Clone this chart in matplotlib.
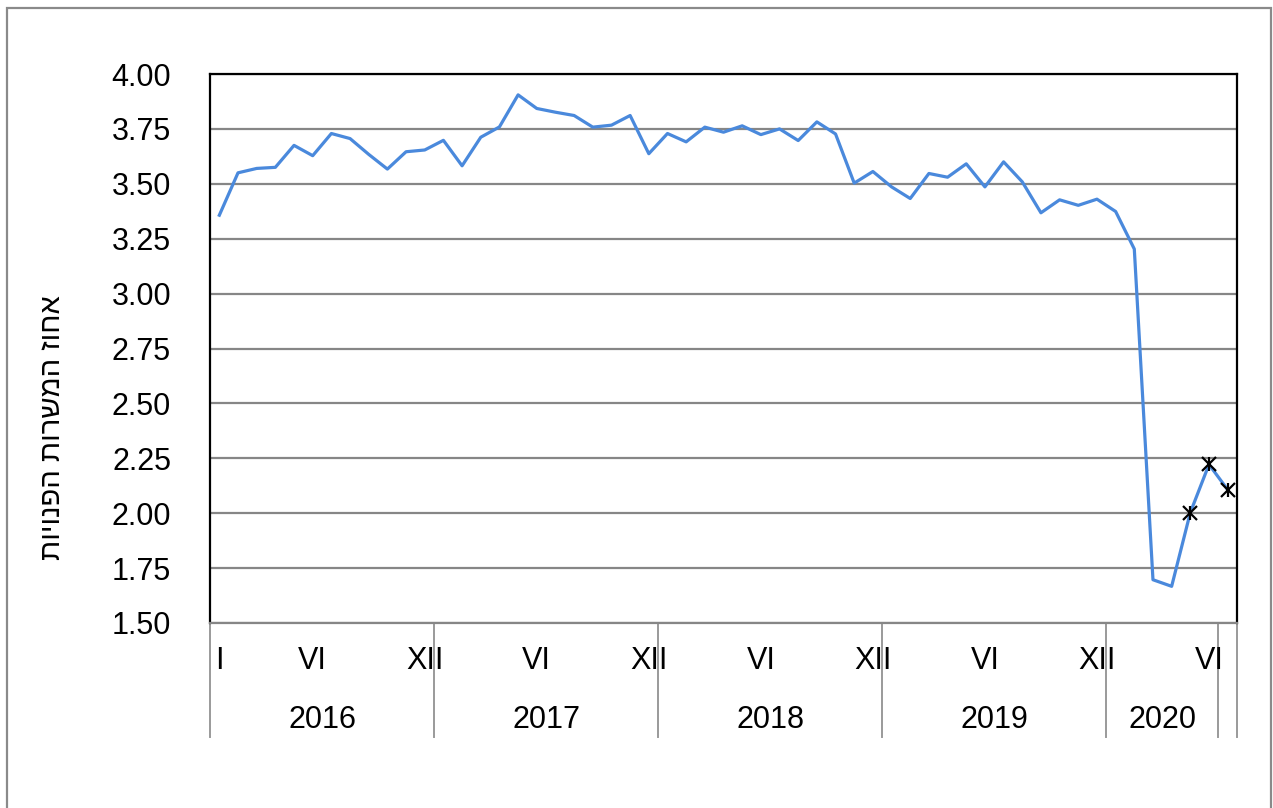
import matplotlib
matplotlib.use("Agg")
import matplotlib.pyplot as plt
from matplotlib.lines import Line2D
from matplotlib.patches import Rectangle
import matplotlib.transforms as mtransforms

plt.rcParams['font.family'] = ['Liberation Sans', 'DejaVu Sans']

# Monthly values Jan 2016 .. Jul 2020
values = [
    3.357, 3.550, 3.570, 3.575, 3.675, 3.628, 3.729, 3.706, 3.634, 3.567, 3.646, 3.654,  # 2016
    3.698, 3.582, 3.712, 3.759, 3.905, 3.843, 3.826, 3.811, 3.758, 3.767, 3.811, 3.637,  # 2017
    3.729, 3.691, 3.758, 3.735, 3.764, 3.724, 3.750, 3.697, 3.782, 3.727, 3.503, 3.556,  # 2018
    3.486, 3.433, 3.547, 3.530, 3.591, 3.486, 3.600, 3.509, 3.368, 3.427, 3.402, 3.430,  # 2019
    3.374, 3.203, 1.697, 1.667, 2.003, 2.222, 2.107,                                      # 2020
]
# Indices of months marked with an asterisk (May-Jul 2020)
starred = [52, 53, 54]

month_labels = {0: "I", 5: "VI", 11: "XII", 17: "VI", 23: "XII", 29: "VI", 35: "XII",
                41: "VI", 47: "XII", 53: "VI"}
years = ["2016", "2017", "2018", "2019", "2020"]
year_bounds = [-0.5, 11.5, 23.5, 35.5, 47.5, 53.5]
y_ticks = [1.50, 1.75, 2.00, 2.25, 2.50, 2.75, 3.00, 3.25, 3.50, 3.75, 4.00]
ylabel = "אחוז המשרות הפנויות"

W, H = 1273, 808
fig = plt.figure(figsize=(W / 100, H / 100), dpi=100)
ax = fig.add_axes([210 / W, 1 - 623 / H, (1237 - 210) / W, (623 - 74) / H])

x = list(range(len(values)))
ax.plot(x, values, color="#4a89dc", lw=2.3, zorder=3)
sx = [x[i] for i in starred]
sy = [values[i] for i in starred]
ax.plot(sx, sy, ls="none", marker="x", ms=10, mew=1.6, color="black", zorder=4)
ax.plot(sx, sy, ls="none", marker="|", ms=10, mew=1.6, color="black", zorder=4)

ax.set_xlim(-0.5, len(values) - 0.5)
ax.set_ylim(1.5, 4.0)
ax.set_yticks(y_ticks)
ax.set_yticklabels([f"{v:.2f}" for v in y_ticks], fontsize=22)
ax.tick_params(axis="y", length=0, pad=28)
ax.set_xticks([])
ax.yaxis.grid(True, color="#868686", lw=1.6)
ax.set_axisbelow(True)
for s in ["left", "top", "right"]:
    ax.spines[s].set_color("black")
    ax.spines[s].set_linewidth(1.6)
ax.spines["bottom"].set_color("#868686")
ax.spines["bottom"].set_linewidth(1.6)

trans = mtransforms.blended_transform_factory(ax.transData, ax.transAxes)
bottom = -(737 - 623) / (623 - 74)
for b in year_bounds + [len(values) - 0.5]:
    ax.add_line(Line2D([b, b], [0, bottom], transform=trans, color="#9a9a9a",
                       lw=1.4, clip_on=False))
m_y = -(661 - 623) / (623 - 74)
for i, lab in month_labels.items():
    ax.text(i, m_y, lab, transform=trans, ha="center", va="center", fontsize=22)
y_y = -(720 - 623) / (623 - 74)
for k, yr in enumerate(years):
    c = (year_bounds[k] + year_bounds[k + 1]) / 2
    ax.text(c, y_y, yr, transform=trans, ha="center", va="center", fontsize=22)

fig.text(52 / W, 1 - 428 / H, ylabel[::-1], rotation=90, ha="center", va="center",
         fontsize=21)

fig.patches.append(Rectangle((7 / W, -0.02), (1271 - 7) / W, 1.02 - 8 / H,
                             transform=fig.transFigure, fill=False,
                             edgecolor="#8a8a8a", lw=1.6))

fig.savefig("out.png", dpi=100)
